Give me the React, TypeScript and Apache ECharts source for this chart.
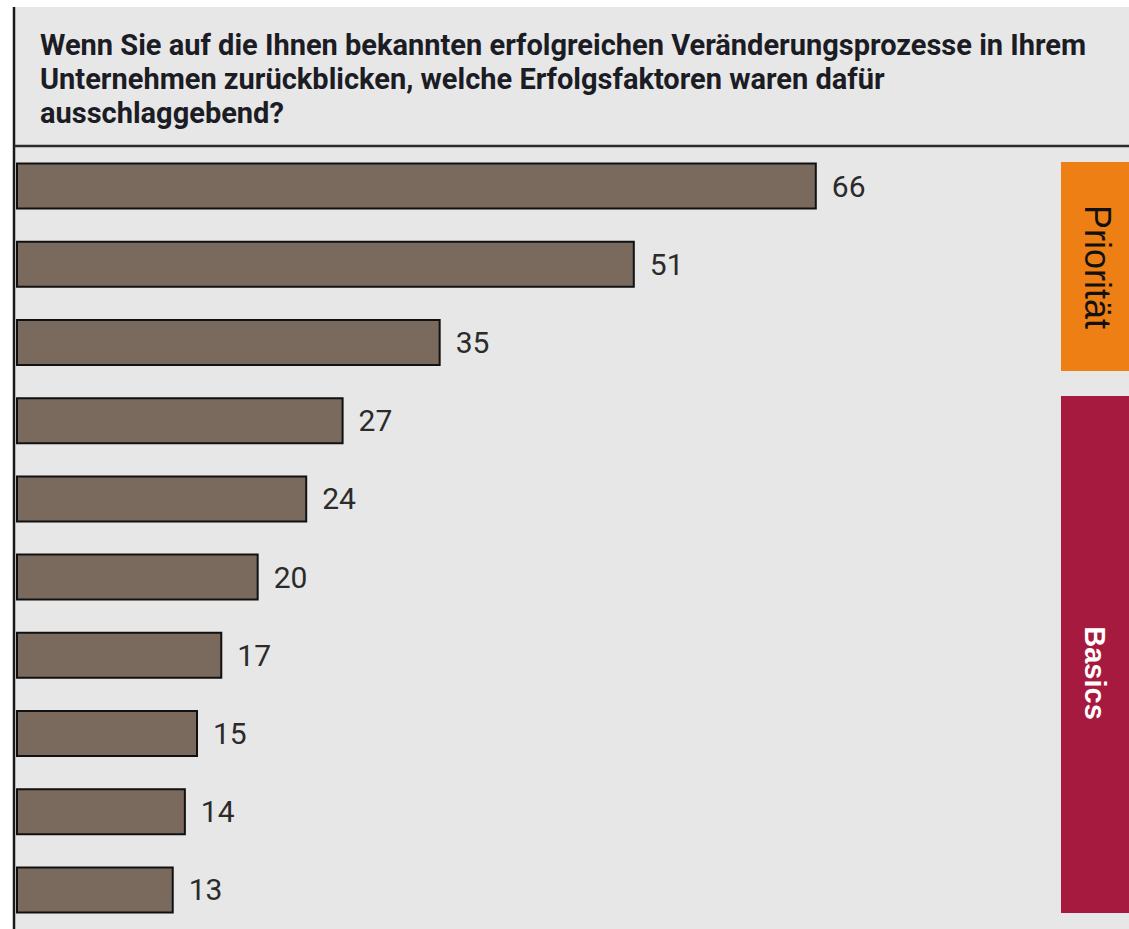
import React, { useEffect, useRef } from "react";
import * as echarts from "echarts";

const categories = ["F1", "F2", "F3", "F4", "F5", "F6", "F7", "F8", "F9", "F10"];
const values = [66, 51, 35, 27, 24, 20, 17, 15, 14, 13];
const titleLines = [
  "Wenn Sie auf die Ihnen bekannten erfolgreichen Veränderungsprozesse in Ihrem",
  "Unternehmen zurückblicken, welche Erfolgsfaktoren waren dafür",
  "ausschlaggebend?",
];
const groupLabels = ["Priorität", "Basics"];

export default function App() {
  const ref = useRef<HTMLDivElement>(null);
  useEffect(() => {
    const chart = echarts.init(ref.current!, null, { renderer: "svg" });
    chart.setOption({
      animation: false,
      backgroundColor: "#ffffff",
      grid: { left: 16, top: 147, width: 1092, height: 782, containLabel: false },
      xAxis: { type: "value", min: 0, max: 90, show: false },
      yAxis: {
        type: "category",
        data: categories,
        inverse: true,
        axisLine: { show: false },
        axisTick: { show: false },
        axisLabel: { show: false },
      },
      graphic: [
        { type: "rect", z: -10, shape: { x: 15, y: 7, width: 1114, height: 922 }, style: { fill: "#e7e7e8" } },
        { type: "line", z: 10, shape: { x1: 14, y1: 7, x2: 14, y2: 929 }, style: { stroke: "#1a1a1a", lineWidth: 2.5 } },
        { type: "line", z: 10, shape: { x1: 14, y1: 146, x2: 1129, y2: 146 }, style: { stroke: "#2a2a2a", lineWidth: 2.5 } },
        {
          type: "text",
          x: 40,
          y: 28,
          style: {
            text: titleLines.join("\n"),
            fill: "#1c1c24",
            fontFamily: "Roboto",
            fontWeight: "bold",
            fontSize: 29,
            lineHeight: 34,
            textVerticalAlign: "top",
          },
        },
        { type: "rect", shape: { x: 1061, y: 162, width: 70, height: 209 }, style: { fill: "#ee7f14" } },
        { type: "rect", shape: { x: 1061, y: 396, width: 70, height: 517 }, style: { fill: "#a51a3e" } },
        {
          type: "text",
          x: 1097,
          y: 267,
          rotation: -Math.PI / 2,
          style: {
            text: groupLabels[0],
            fill: "#111111",
            fontFamily: "Liberation Sans",
            fontSize: 36,
            align: "center",
            verticalAlign: "middle",
          },
        },
        {
          type: "text",
          x: 1095,
          y: 673,
          rotation: -Math.PI / 2,
          style: {
            text: groupLabels[1],
            fill: "#ffffff",
            fontFamily: "Liberation Sans",
            fontWeight: "bold",
            fontSize: 29,
            align: "center",
            verticalAlign: "middle",
          },
        },
      ],
      series: [
        {
          type: "bar",
          data: values,
          barWidth: 47,
          itemStyle: { color: "#7a6a5e", borderColor: "#111111", borderWidth: 2 },
          label: {
            show: true,
            position: "right",
            distance: 15,
            color: "#2b2b2b",
            fontFamily: "Roboto",
            fontSize: 30,
          },
        },
      ],
    });
    return () => chart.dispose();
  }, []);
  return (
    <div
      ref={ref}
      style={{ position: "absolute", left: 0, top: 0, width: 1129, height: 929 }}
    />
  );
}
